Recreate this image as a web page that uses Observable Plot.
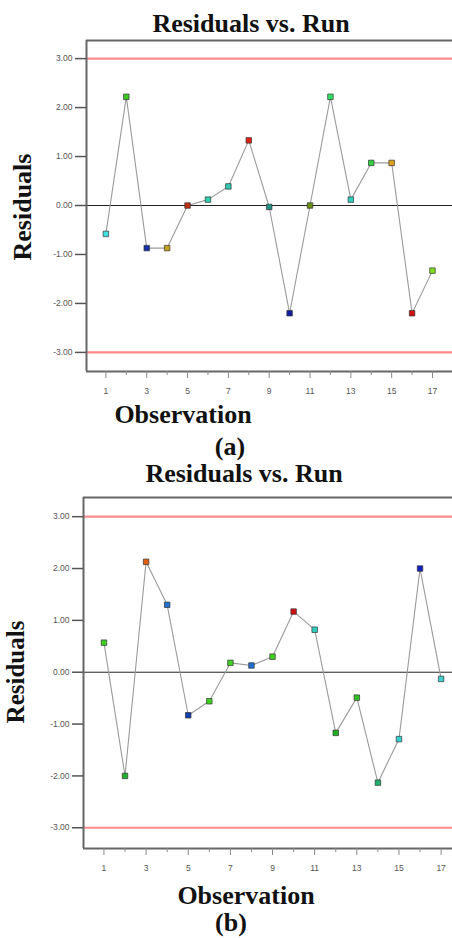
<!DOCTYPE html>
<html><head><meta charset="utf-8">
<script src="https://cdn.jsdelivr.net/npm/d3@7"></script>
<script src="https://cdn.jsdelivr.net/npm/@observablehq/plot@0.6"></script>
<style>
body{margin:0;background:#fff;}
#wrap{position:relative;width:452px;height:938px;overflow:hidden;background:#fff;}
.t{position:absolute;font-family:"Liberation Serif","Times New Roman",serif;font-weight:bold;color:#111;white-space:nowrap;transform:translate(-50%,-50%);line-height:1;}
.rot{transform:translate(-50%,-50%) rotate(-90deg);}
.p{position:absolute;left:0;}
</style></head>
<body><div id="wrap"></div>
<script>
const obs = [1,2,3,4,5,6,7,8,9,10,11,12,13,14,15,16,17];
const resA = [-0.58, 2.22, -0.87, -0.87, 0.0, 0.12, 0.39, 1.33, -0.03, -2.2, 0.0, 2.22, 0.12, 0.87, 0.87, -2.2, -1.33];
const colA = ["#40e0e0","#40c820","#1830a8","#c8a020","#c03010","#30d0b0","#30c8b0","#e02010","#209080","#1020a0","#6a9010","#30e060","#30d0c0","#30d040","#e0a020","#d01010","#80e020"];
const resB = [0.57, -2.0, 2.13, 1.3, -0.83, -0.56, 0.18, 0.13, 0.3, 1.17, 0.82, -1.17, -0.49, -2.13, -1.29, 2.0, -0.13];
const colB = ["#40d020","#20b030","#e06010","#2070d0","#1040b0","#40d020","#40d020","#2070d0","#40d020","#d01010","#30d0c0","#20b020","#30c020","#20b070","#30d0d0","#1020c0","#40d0d0"];
const yTicks = [-3,-2,-1,0,1,2,3];
const xMajor = [1,3,5,7,9,11,13,15,17];
const xMinor = [2,4,6,8,10,12,14,16];
const limits = [-3,3];
const title = "Residuals vs. Run";
const xLabel = "Observation";
const yLabel = "Residuals";
const captions = ["(a)","(b)"];

const wrap = document.getElementById("wrap");
function addText(txt, x, y, size, rot){
  const d = document.createElement("div");
  d.className = "t" + (rot ? " rot" : "");
  d.textContent = txt;
  d.style.left = x + "px"; d.style.top = y + "px"; d.style.fontSize = size + "px";
  wrap.appendChild(d);
}

function panel(res, cols, opt){
  const data = obs.map((o,i)=>({o, r: res[i], c: cols[i]}));
  const svg = Plot.plot({
    width: 452, height: opt.h,
    marginLeft: opt.ml, marginRight: 0, marginTop: opt.mt, marginBottom: opt.mb,
    style: {fontFamily: "'Liberation Sans Narrow','Liberation Sans',Arial,sans-serif", fontSize: "8.5px", background: "transparent"},
    x: {domain: opt.xd},
    y: {domain: opt.yd},
    marks: [
      Plot.ruleY([0], {stroke: "#222", strokeWidth: 1, x1: opt.xd[0], x2: opt.xd[1]}),
      Plot.ruleY(limits, {stroke: "#ff8a8a", strokeWidth: 2.2}),
      Plot.ruleX([opt.xd[0]], {stroke: "#666", strokeWidth: 2}),
      Plot.ruleY([opt.yd[0], opt.yd[1]], {stroke: "#666", strokeWidth: 2}),
      Plot.axisY({ticks: yTicks, tickSize: 11, tickPadding: 3, tickFormat: d => d.toFixed(2), stroke: "#555", strokeWidth: 1.5, color: "#555", label: null}),
      Plot.axisX({ticks: xMajor, tickSize: 7, tickPadding: 9, tickFormat: d => String(d), stroke: "#888", color: "#555", label: null}),
      Plot.axisX({ticks: xMinor, tickSize: 4, tickFormat: () => "", stroke: "#888", label: null}),
      Plot.line(data, {x: "o", y: "r", stroke: "#9a9a9a", strokeWidth: 1.1}),
      Plot.dot(data, {x: "o", y: "r", symbol: "square", r: 3.1, fill: "c", stroke: "#333", strokeWidth: 0.7})
    ]
  });
  svg.classList.add("p");
  svg.style.top = opt.top + "px";
  wrap.appendChild(svg);
}

panel(resA, colA, {top: 0, h: 400, ml: 86, mt: 40, mb: 29, xd: [0.05, 17.98], yd: [-3.39, 3.37]});
panel(resB, colB, {top: 460, h: 420, ml: 83, mt: 37, mb: 32, xd: [0.03, 17.54], yd: [-3.40, 3.37]});

addText(title, 251, 24, 26);
addText(yLabel, 23, 207, 26, true);
addText(xLabel, 183, 415, 26);
addText(captions[0], 230, 447, 26);
addText(title, 244, 474, 26);
addText(yLabel, 15, 672, 25, true);
addText(xLabel, 246, 896, 26);
addText(captions[1], 231, 923, 26);
</script></body></html>
